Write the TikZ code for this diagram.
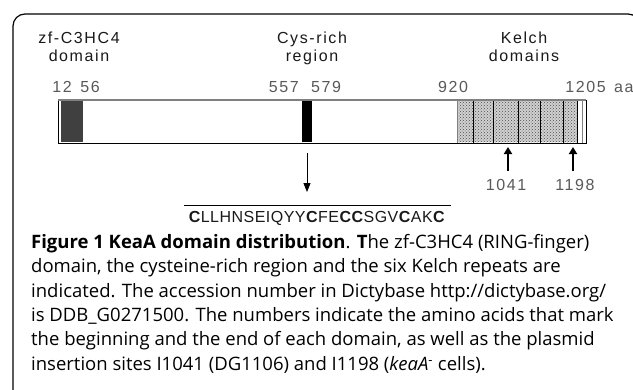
\documentclass[tikz,border=0pt]{standalone}
\usepackage{fontspec}
\setmainfont{Open Sans}
\newfontfamily\lblfont[LetterSpace=10]{Liberation Sans}
\newfontfamily\seqfont[LetterSpace=3]{Liberation Sans}
\usetikzlibrary{patterns,arrows.meta}

\begin{document}
\begin{tikzpicture}[x=1pt,y=-1pt,
    lbl/.style={font=\lblfont\fontsize{16}{18}\selectfont,text=black!90,inner sep=0pt},
    num/.style={lbl,text=black!65},
    ins/.style={line width=2.4pt,-{Triangle[width=8pt,length=7pt]}}]
	\useasboundingbox (0,0) rectangle (633,389);
	\draw[line width=1.2pt,rounded corners=12pt] (13,400) |- (640,14) -- (640,400);

            % domain headings and positions
            \node[lbl,align=center,anchor=north] (zf) at (79,32) {zf-C3HC4\\domain};
            \node[lbl,align=center,anchor=north] (cysrich) at (312,32) {Cys-rich\\region};
            \node[lbl,align=center,anchor=north] (kelch) at (524,32) {Kelch\\domains};
            \node[num,anchor=base] (p12) at (62,92) {12};
            \node[num,anchor=base] (p56) at (90,92) {56};
            \node[num,anchor=base east] (p557) at (299,92) {557};
            \node[num,anchor=base west] (p579) at (311,92) {579};
            \node[num,anchor=base] (p920) at (453,92) {920};
            \node[num,anchor=base east] (p1205) at (606,92) {1205};
            \node[num,anchor=base west] (aa) at (614,92) {aa};

            % protein bar
            \draw[fill=white,line width=1pt] (58,100) rectangle (586,143);
            \fill[black!75] (61,101) rectangle (83,142);
            \fill (302,101) rectangle (312,142);
            \fill[black!18] (457,101) rectangle (577,142);
            \fill[pattern=crosshatch dots,pattern color=black!70] (457,101) rectangle (577,142);
            \foreach \x in {473,493,518,540,563,577}{
              \draw[line width=1pt] (\x,100) -- (\x,143);
            }
            \draw[black!50] (457,100) -- (457,143);
            \draw[black!50] (582,100) -- (582,143);
            \draw[black!50,line width=1.5pt] (58,100) -- (586,100);

            % cysteine-rich sequence
            \coordinate (cys) at (307,153);
            \coordinate (seqtop) at (307,192);
            \draw[line width=0.9pt,-{Triangle[width=7pt,length=9pt]}] (cys) -- (seqtop);
            \coordinate (seqL) at (184,205);
            \coordinate (seqR) at (451,205);
            \draw[line width=1pt] (seqL) -- (seqR);
            \node[lbl,font=\seqfont\fontsize{16}{18}\selectfont,anchor=base] (seq) at (317,222) {\textbf{C}LLHNSEIQYY\textbf{C}FE\textbf{CC}SGV\textbf{C}AK\textbf{C}};

            % insertion sites
            \node[num,anchor=base] (i1041) at (506,190) {1041};
            \node[num,anchor=base] (i1198) at (575,190) {1198};
            \coordinate (k1041) at (508,147);
            \coordinate (k1198) at (573,147);
            \draw[ins,shorten <=8pt] (i1041.north -| k1041) -- (k1041);
            \draw[ins,shorten <=8pt] (i1198.north -| k1198) -- (k1198);

            \node[anchor=north west,inner sep=0pt,align=left,font=\fontsize{18.5}{24.4}\selectfont] (caption) at (31,234)
              {\textbf{Figure 1 KeaA domain distribution}. \textbf{T}he zf-C3HC4 (RING-finger)\\
               domain, the cysteine-rich region and the six Kelch repeats are\\
               indicated. The accession number in Dictybase http://dictybase.org/\\
               is DDB\_G0271500. The numbers indicate the amino acids that mark\\
               the beginning and the end of each domain, as well as the plasmid\\
               insertion sites I1041 (DG1106) and I1198 (\textit{keaA}\textsuperscript{-} cells).};
        \end{tikzpicture}
\end{document}
